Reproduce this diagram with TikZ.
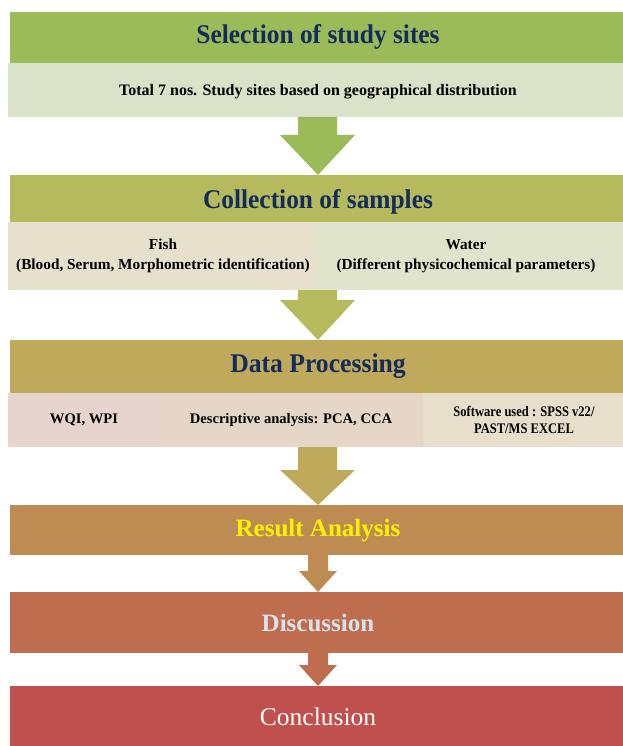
\documentclass[tikz,border=0pt]{standalone}
\usepackage{fontspec}
\setmainfont{Liberation Serif}
\usetikzlibrary{calc}
\definecolor{gA}{HTML}{9BBB59}
\definecolor{gAl}{HTML}{DAE3CA}
\definecolor{gB}{HTML}{B5BA5C}
\definecolor{gBl}{HTML}{E6E1CD}
\definecolor{gBr}{HTML}{E1E4CD}
\definecolor{gC}{HTML}{BFA95A}
\definecolor{gCa}{HTML}{E8D4CE}
\definecolor{gCb}{HTML}{E6D6C8}
\definecolor{gCc}{HTML}{E7DECC}
\definecolor{gD}{HTML}{BE8C52}
\definecolor{gE}{HTML}{BE6E4F}
\definecolor{gF}{HTML}{C0504D}
\definecolor{navy}{HTML}{152B5C}
\definecolor{disc}{HTML}{DCE1EC}
\newcommand{\sqz}[2]{\scalebox{#1}[1]{#2}}
\tikzset{
  band/.style={anchor=north west, inner sep=0pt, outer sep=0pt, draw=none},
  ttl/.style={font=\bfseries\fontsize{27}{30}\selectfont, text=navy},
  sub/.style={font=\bfseries\fontsize{15.3}{20}\selectfont, align=center, text=black},
  big/.style={font=\bfseries\fontsize{25}{28}\selectfont}
}
\begin{document}
\begin{tikzpicture}[x=1pt,y=-1pt]
\useasboundingbox (0,0) rectangle (623,746);
% Stage 1
\node[band, fill=gA, minimum width=613pt, minimum height=51pt] (b1) at (10,12) {};
\node[ttl] (t1) at (318,37) {\sqz{0.94}{Selection of study sites}};
\node[band, fill=gAl, minimum width=615pt, minimum height=54pt] (l1) at (8,63) {};
\node[sub, font=\bfseries\fontsize{16}{20}\selectfont] (s1) at (318,92) {Total 7 nos. Study sites based on geographical distribution};
% Stage 2
\node[band, fill=gB, minimum width=613pt, minimum height=47pt] (b2) at (10,175) {};
\node[ttl] (t2) at (318,202) {\sqz{0.94}{Collection of samples}};
\node[band, fill=gBl, minimum width=309pt, minimum height=68pt] (l2a) at (8,222) {};
\node[band, fill=gBr, minimum width=306pt, minimum height=68pt] (l2b) at (317,222) {};
\node[sub] (s2a) at (163,256) {Fish\\(Blood, Serum, Morphometric identification)};
\node[sub] (s2b) at (466,256) {Water\\(Different physicochemical parameters)};
% Stage 3
\node[band, fill=gC, minimum width=613pt, minimum height=53pt] (b3) at (10,340) {};
\node[ttl] (t3) at (318,366) {\sqz{0.95}{Data Processing}};
\node[band, fill=gCa, minimum width=152pt, minimum height=54pt] (l3a) at (8,393) {};
\node[band, fill=gCb, minimum width=263pt, minimum height=54pt] (l3b) at (160,393) {};
\node[band, fill=gCc, minimum width=200pt, minimum height=54pt] (l3c) at (423,393) {};
\node[sub, font=\bfseries\fontsize{14.6}{17}\selectfont] (s3a) at (84,420) {WQI, WPI};
\node[sub, font=\bfseries\fontsize{14.6}{17}\selectfont] (s3b) at (291,420) {Descriptive analysis: PCA, CCA};
\node[sub, font=\bfseries\fontsize{14.6}{17}\selectfont] (s3c) at (524,420) {\sqz{0.86}{Software used : SPSS v22/}\\\sqz{0.86}{PAST/MS EXCEL}};
% Stage 4-6
\node[band, fill=gD, minimum width=613pt, minimum height=50pt] (b4) at (10,505) {};
\node[big, text=yellow] (t4) at (318,531) {Result Analysis};
\node[band, fill=gE, minimum width=613pt, minimum height=61pt] (b5) at (10,592) {};
\node[big, text=disc] (t5) at (318,623) {Discussion};
\node[band, fill=gF, minimum width=613pt, minimum height=60pt] (b6) at (10,686) {};
\node[font=\fontsize{25.5}{28}\selectfont, text=white] (t6) at (318,717) {Conclusion};
% Block arrows
\fill[gA] (l1.south -| 298,0) -- (298,135) -- (280,135) -- (b2.north -| 318,0) -- (355,135) -- (337,135) -- (l1.south -| 337,0) -- cycle;
\fill[gB] (l2a.south -| 298,0) -- (298,300) -- (280,300) -- (b3.north -| 318,0) -- (355,300) -- (337,300) -- (l2a.south -| 337,0) -- cycle;
\fill[gC] (l3b.south -| 298,0) -- (298,470) -- (280,470) -- (b4.north -| 318,0) -- (355,470) -- (337,470) -- (l3b.south -| 337,0) -- cycle;
\fill[gD] (b4.south -| 308,0) -- (308,571) -- (299,571) -- (b5.north -| 318,0) -- (337,571) -- (328,571) -- (b4.south -| 328,0) -- cycle;
\fill[gE] (b5.south -| 308,0) -- (308,665) -- (299,665) -- (b6.north -| 318,0) -- (337,665) -- (328,665) -- (b5.south -| 328,0) -- cycle;
\end{tikzpicture}
\end{document}
